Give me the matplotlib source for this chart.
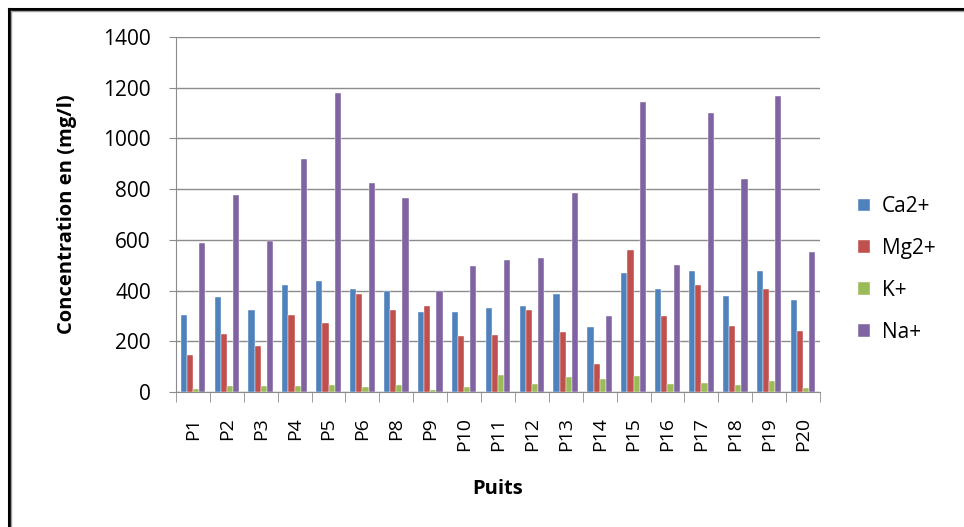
import numpy as np
import matplotlib
matplotlib.use("Agg")
import matplotlib.pyplot as plt
from matplotlib.lines import Line2D

wells = ["P1", "P2", "P3", "P4", "P5", "P6", "P8", "P9", "P10", "P11",
         "P12", "P13", "P14", "P15", "P16", "P17", "P18", "P19", "P20"]
ca = [305, 373, 323, 423, 436, 405, 400, 314, 314, 333,
      340, 386, 255, 468, 405, 479, 377, 479, 364]
mg = [147, 227, 183, 305, 273, 386, 322, 340, 220, 223,
      322, 237, 110, 559, 301, 423, 260, 405, 242]
k = [13, 22, 22, 22, 28, 18, 28, 9, 18, 68,
     33, 59, 50, 63, 32, 37, 28, 42, 14]
na = [586, 778, 597, 919, 1178, 823, 764, 397, 496, 519,
      527, 786, 301, 1142, 500, 1102, 841, 1169, 551]

series = [("Ca2+", ca, "#4F81BD"), ("Mg2+", mg, "#C0504D"),
          ("K+", k, "#9BBB59"), ("Na+", na, "#8064A2")]

plt.rcParams["font.family"] = ["Open Sans", "DejaVu Sans"]

fig = plt.figure(figsize=(9.64, 5.27), dpi=100)
ax = fig.add_axes([176 / 964, 1 - 392 / 527, 644 / 964, 355 / 527])

x = np.arange(len(wells))
w = 1 / 5.5
for i, (name, vals, col) in enumerate(series):
    ax.bar(x + (i - 1.5) * w, vals, width=w, color=col, label=name,
           edgecolor="white", linewidth=0.3, zorder=3)

ax.set_xlim(-0.5, len(wells) - 0.5)
ax.set_ylim(0, 1400)
ax.set_yticks(np.arange(0, 1401, 200))
ax.yaxis.grid(True, color="#8c8c8c", linewidth=1, zorder=0)
ax.set_xticks(x)
ax.set_xticklabels(wells, rotation=90, fontsize=14)
ax.set_xticks(np.arange(-0.5, len(wells)), minor=True)
ax.tick_params(axis="x", which="major", length=0, pad=18)
ax.tick_params(axis="x", which="minor", length=7, color="#8c8c8c")
ax.tick_params(axis="y", length=5, color="#8c8c8c", labelsize=15, pad=13)

for s in ["top", "right"]:
    ax.spines[s].set_visible(False)
for s in ["left", "bottom"]:
    ax.spines[s].set_color("#8c8c8c")

ax.set_xlabel("Puits", fontsize=14.5, fontweight="bold", labelpad=20)
ax.set_ylabel("Concentration en (mg/l)", fontsize=14.5, fontweight="bold",
              labelpad=19)

ax.legend(loc="center left", bbox_to_anchor=(1.03, 0.345), frameon=False,
          fontsize=15, handlelength=0.55, handleheight=0.55,
          labelspacing=1.0, handletextpad=0.6)

# chart border (top and left edges visible)
fig.add_artist(Line2D([9 / 964, 1], [1 - 9 / 527, 1 - 9 / 527],
                      transform=fig.transFigure, color="black", linewidth=2.2))
fig.add_artist(Line2D([9 / 964, 9 / 964], [0, 1 - 9 / 527],
                      transform=fig.transFigure, color="black", linewidth=2.2))
fig.add_artist(Line2D([11 / 964, 1], [1 - 11 / 527, 1 - 11 / 527],
                      transform=fig.transFigure, color="#a0a0a0", linewidth=1))
fig.add_artist(Line2D([11 / 964, 11 / 964], [0, 1 - 11 / 527],
                      transform=fig.transFigure, color="#a0a0a0", linewidth=1))

fig.savefig("out.png", dpi=100)
